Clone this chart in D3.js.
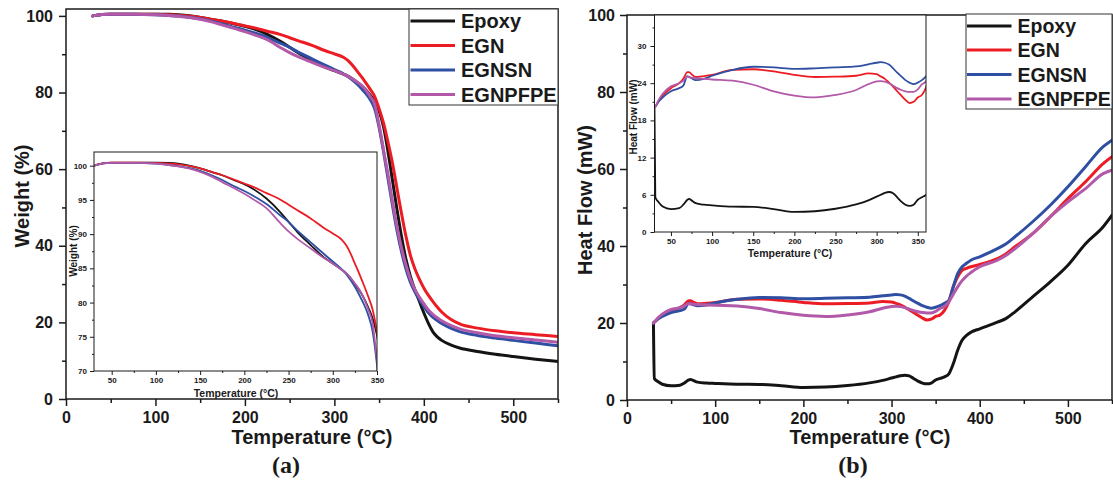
<!DOCTYPE html>
<html>
<head>
<meta charset="utf-8">
<script src="https://cdn.jsdelivr.net/npm/d3@7/dist/d3.min.js"></script>
<style>
  body { margin: 0; background: #fff; }
  svg { display: block; font-family: "Liberation Sans", Arial, sans-serif; font-weight: bold; }
</style>
</head>
<body>
<svg id="chart" width="1113" height="484"></svg>
<script>
// series names + colours
const seriesNames = ["Epoxy", "EGN", "EGNSN", "EGNPFPE"];
const seriesColors = ["#141414", "#ec1c24", "#2f4fa2", "#b25aa9"];

// (a) TGA, weight (%) vs temperature (°C)
const tgaTemp = [30,35,40,50,75,100,115,125,140,150,165,175,190,200,210,225,240,250,260,275,290,300,310,315,320,325,330,335,340,345,350,355,360,365,370,375,380,385,390,395,400,405,410,415,420,430,440,460,480,500,525,550];
const tgaEpoxy = [100,100.2,100.35,100.45,100.45,100.45,100.4,100.3,99.95,99.6,99.0,98.6,97.8,97.3,96.6,95.2,93.3,91.8,90.3,88.4,86.6,85.7,84.8,84.3,83.6,82.7,81.8,80.7,79.3,77.7,75.2,71,64.5,57,49.5,42.5,36.5,32,28.5,25.5,22.5,19.8,17.6,16.2,15.3,14.1,13.3,12.4,11.7,11.1,10.4,9.8];
const tgaEGN = [100,100.2,100.35,100.45,100.45,100.4,100.3,100.2,99.9,99.6,99.0,98.6,97.9,97.4,96.9,96.0,95.1,94.3,93.5,92.3,90.9,90.1,89.2,88.4,87.2,85.7,84.2,82.6,80.9,79,75.8,72,67,61.5,55,48.5,42.5,37.5,34,31.3,29,27.1,25.5,24,22.7,20.8,19.6,18.5,17.8,17.3,16.8,16.3];
const tgaEGNSN = [100,100.2,100.35,100.4,100.4,100.3,100.1,99.95,99.6,99.25,98.5,97.9,96.9,96.3,95.6,94.4,92.8,91.8,90.5,88.8,87.1,86.0,84.9,84.2,83.3,82.3,81.1,79.8,78.2,75.8,70.9,64.5,57.5,50.5,44,38.5,34,30.5,28,26,24.2,22.6,21.4,20.5,19.7,18.5,17.6,16.6,15.9,15.3,14.6,13.9];
const tgaEGNPFPE = [100,100.2,100.35,100.4,100.4,100.3,100.1,99.9,99.5,99.1,98.3,97.6,96.6,95.9,95.1,93.8,91.7,90.4,89.3,87.9,86.5,85.7,84.8,84.3,83.6,82.8,81.9,80.7,79.0,77,71.5,65,58.5,51.5,45,39.5,35,31.3,28.6,26.6,24.9,23.3,22.1,21.2,20.4,19.2,18.3,17.3,16.5,16.0,15.4,14.8];

// (b) DSC, heat flow (mW) vs temperature (°C)
const dscTemp = [30,31,35,40,50,60,65,70,72,75,80,90,100,125,150,175,200,225,250,275,290,300,305,310,315,320,325,330,335,340,345,350,355,360,365,370,375,380,385,390,400,420,430,440,460,480,500,520,540,550];
const dscEpoxy = [19.8,5.6,4.8,4.1,3.7,3.85,4.4,5.2,5.35,5.1,4.65,4.4,4.3,4.1,4.05,3.7,3.25,3.35,3.75,4.45,5.1,5.7,6.0,6.3,6.45,6.25,5.6,4.9,4.4,4.2,4.4,5.2,5.6,6.0,6.8,9.4,12.9,15.5,16.8,17.6,18.5,20.2,21.2,22.9,26.8,30.7,35,40.6,45,48];
const dscEGN = [20,20.2,21.1,22,23.2,24,24.7,25.8,25.8,25.45,25.0,25.15,25.35,26.15,26.25,25.9,25.35,25.0,25.05,25.2,25.6,25.45,25.1,24.7,24.1,23.45,22.7,22,21.3,20.8,21,21.7,22.1,23.3,25.5,29.4,32,33.7,34.2,34.6,35.2,36.7,38,39.8,43.2,47.6,52.3,56.7,61.4,63.2];
const dscEGNSN = [20,20.2,21,21.7,22.7,23.2,23.6,25.15,25.0,24.8,24.5,24.7,25.2,26.15,26.65,26.55,26.3,26.4,26.55,26.7,27.05,27.3,27.4,27.3,27,26.4,25.7,25.1,24.5,24.1,23.85,24.1,24.5,25.1,25.9,29.4,32.8,34.6,35.5,36.3,37.2,39.3,40.6,42.4,46.3,50.6,55.4,60.6,65.8,67.5];
const dscEGNPFPE = [20,20.2,21.3,22.3,23.5,24,24.4,25.05,25.0,24.9,24.8,24.7,24.6,24.4,23.75,22.7,22,21.7,22.1,22.9,23.85,24.3,24.35,24.25,24.0,23.6,23.2,22.9,22.7,22.6,22.6,23,23.8,24.3,25.5,27.5,29.4,31,32.2,33.1,34.6,36.3,37.6,39.3,43.2,47.6,51.5,54.9,58.8,59.7];

// ticks
const mainXTicks = [0,100,200,300,400,500];
const mainXMinor = [50,150,250,350,450,550];
const mainYTicks = [0,20,40,60,80,100];
const mainYMinor = [10,30,50,70,90];
const insetXTicks = [50,100,150,200,250,300,350];
const insetXMinor = [75,125,175,225,275,325];
const tgaInsetYTicks = [70,75,80,85,90,95,100];
const tgaInsetYMinor = [72.5,77.5,82.5,87.5,92.5,97.5];
const dscInsetYTicks = [0,6,12,18,24,30];
const dscInsetYMinor = [3,9,15,21,27,33];

const svg = d3.select("#chart");
let clipId = 0;

function zipSeries(temps, arrays) {
  return arrays.map(vals => temps.map((t, i) => [t, vals[i]]));
}

// draws a boxed plot area with axes, minor ticks and the curves
function plotBox(x, y, o) {
  const g = svg.append("g");
  const [x0, x1] = x.range(), [y0, y1] = y.range();
  g.append("rect").attr("x", x0).attr("y", y1).attr("width", x1 - x0).attr("height", y0 - y1)
    .attr("fill", "#fff");

  const id = "clip" + (clipId++);
  svg.append("clipPath").attr("id", id).append("rect")
    .attr("x", x0).attr("y", y1).attr("width", x1 - x0).attr("height", y0 - y1);

  const line = d3.line().x(d => x(d[0])).y(d => y(d[1])).curve(d3.curveMonotoneX);
  const lines = g.append("g").attr("clip-path", "url(#" + id + ")");
  o.series.forEach((s, i) => {
    lines.append("path").datum(s).attr("d", line).attr("fill", "none")
      .attr("stroke", seriesColors[i]).attr("stroke-width", o.lw)
      .attr("stroke-linejoin", "round").attr("stroke-linecap", "round");
  });

  g.append("rect").attr("x", x0).attr("y", y1).attr("width", x1 - x0).attr("height", y0 - y1)
    .attr("fill", "none").attr("stroke", "#1a1a1a").attr("stroke-width", o.frame);

  const ax = g.append("g").attr("transform", `translate(0,${y0})`)
    .call(d3.axisBottom(x).tickValues(o.xt).tickSize(o.tick).tickPadding(o.xpad).tickFormat(d3.format("d")));
  const axm = g.append("g").attr("transform", `translate(0,${y0})`)
    .call(d3.axisBottom(x).tickValues(o.xm).tickSize(o.minor).tickFormat(""));
  const ay = g.append("g").attr("transform", `translate(${x0},0)`)
    .call(d3.axisLeft(y).tickValues(o.yt).tickSize(o.tick).tickPadding(o.ypad).tickFormat(d3.format("d")));
  const aym = g.append("g").attr("transform", `translate(${x0},0)`)
    .call(d3.axisLeft(y).tickValues(o.ym).tickSize(o.minor).tickFormat(""));
  [ax, axm, ay, aym].forEach(a => {
    a.select(".domain").remove();
    a.selectAll("line").attr("stroke", "#1a1a1a").attr("stroke-width", o.frame);
    a.selectAll("text").attr("fill", "#1a1a1a").style("font-size", o.fs + "px")
      .style("font-family", "inherit").style("font-weight", "bold");
  });
  return g;
}

function label(txt, xx, yy, size, rot, family) {
  const t = svg.append("text").text(txt).attr("text-anchor", "middle")
    .attr("transform", `translate(${xx},${yy})` + (rot ? " rotate(-90)" : ""))
    .style("font-size", size + "px").attr("fill", "#1a1a1a");
  if (family) t.style("font-family", family);
  return t;
}

function legend(bx, by, bw, bh, rows, lx0, lx1, tx, fs) {
  const g = svg.append("g");
  g.append("rect").attr("x", bx).attr("y", by).attr("width", bw).attr("height", bh)
    .attr("fill", "#fff").attr("stroke", "#333").attr("stroke-width", 1);
  seriesNames.forEach((n, i) => {
    g.append("line").attr("x1", lx0).attr("x2", lx1).attr("y1", rows[i]).attr("y2", rows[i])
      .attr("stroke", seriesColors[i]).attr("stroke-width", 3);
    g.append("text").attr("x", tx).attr("y", rows[i] + fs * 0.36).text(n)
      .style("font-size", fs + "px").attr("fill", "#1a1a1a");
  });
}

const tgaSeries = zipSeries(tgaTemp, [tgaEpoxy, tgaEGN, tgaEGNSN, tgaEGNPFPE]);
const dscSeries = zipSeries(dscTemp, [dscEpoxy, dscEGN, dscEGNSN, dscEGNPFPE]);

// ---- panel (a)
const xa = d3.scaleLinear().domain([0, 550]).range([66, 558]);
const ya = d3.scaleLinear().domain([0, 101.8]).range([399, 9]);
plotBox(xa, ya, { series: tgaSeries, lw: 3, frame: 1.5, xt: mainXTicks, xm: mainXMinor,
  yt: mainYTicks, ym: mainYMinor, tick: 7, minor: 4, xpad: 6, ypad: 6, fs: 16 });

const xai = d3.scaleLinear().domain([30, 350]).range([94, 377]);
const yai = d3.scaleLinear().domain([70, 102]).range([371, 152]);
plotBox(xai, yai, { series: tgaSeries, lw: 1.8, frame: 1, xt: insetXTicks, xm: insetXMinor,
  yt: tgaInsetYTicks, ym: tgaInsetYMinor, tick: 4, minor: 2, xpad: 2.5, ypad: 3, fs: 8 });

label("Temperature (°C)", 312, 444, 20);
label("Weight (%)", 29, 196, 20, true);
label("Temperature (°C)", 236, 397, 10.5);
label("Weight (%)", 76.5, 251, 10, true);
label("(a)", 286, 473, 24, false, "'Liberation Serif', 'Times New Roman', serif");
legend(409, 9, 149, 96, [21, 45.5, 70, 94.5], 410.5, 455, 461, 20);

// ---- panel (b)
const xb = d3.scaleLinear().domain([0, 550]).range([627, 1112]);
const yb = d3.scaleLinear().domain([0, 100]).range([400, 15]);
plotBox(xb, yb, { series: dscSeries, lw: 3, frame: 1.5, xt: mainXTicks, xm: mainXMinor,
  yt: mainYTicks, ym: mainYMinor, tick: 7, minor: 4, xpad: 6, ypad: 5, fs: 16 });

const xbi = d3.scaleLinear().domain([30, 360]).range([654.5, 926]);
const ybi = d3.scaleLinear().domain([0, 35]).range([232, 15]);
plotBox(xbi, ybi, { series: dscSeries, lw: 1.8, frame: 1, xt: insetXTicks, xm: insetXMinor,
  yt: dscInsetYTicks, ym: dscInsetYMinor, tick: 4, minor: 2, xpad: 2.5, ypad: 4, fs: 8 });

label("Temperature (°C)", 870, 444, 20);
label("Heat Flow (mW)", 592, 200, 20, true);
label("Temperature (°C)", 790, 257, 10.5);
label("Heat Flow (mW)", 637, 117, 10, true);
label("(b)", 853, 473, 24, false, "'Liberation Serif', 'Times New Roman', serif");
legend(966, 14, 146, 95, [26, 50, 74.5, 99], 967, 1011.5, 1017.5, 19.5);
</script>
</body>
</html>
